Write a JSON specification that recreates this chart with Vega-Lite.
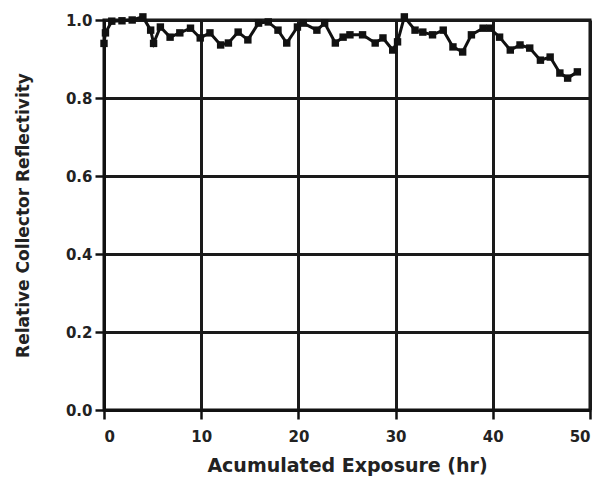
{
  "$schema": "https://vega.github.io/schema/vega-lite/v6.json",
  "width": 486,
  "height": 390,
  "autosize": "none",
  "padding": {"left": 104, "top": 20, "right": 14, "bottom": 72},
  "background": "white",
  "config": {
    "view": {"stroke": "#111", "strokeWidth": 3},
    "font": "DejaVu Sans",
    "axis": {
      "labelFont": "DejaVu Sans",
      "labelFontWeight": "bold",
      "labelFontSize": 15,
      "labelColor": "#222",
      "titleFont": "DejaVu Sans",
      "titleFontWeight": "bold",
      "titleFontSize": 18,
      "titleColor": "#222",
      "domainColor": "#111",
      "domainWidth": 3,
      "tickColor": "#111",
      "tickWidth": 2.5,
      "tickSize": 9,
      "grid": true,
      "gridColor": "#1a1a1a",
      "gridWidth": 3,
      "gridOpacity": 1
    }
  },
  "data": {
    "values": [
      {"hours": 0.0, "reflectivity": 0.94},
      {"hours": 0.15, "reflectivity": 0.967},
      {"hours": 0.8, "reflectivity": 0.997},
      {"hours": 1.85, "reflectivity": 0.998},
      {"hours": 2.9, "reflectivity": 1.0},
      {"hours": 4.0, "reflectivity": 1.008},
      {"hours": 4.8, "reflectivity": 0.974},
      {"hours": 5.1, "reflectivity": 0.94},
      {"hours": 5.8, "reflectivity": 0.982},
      {"hours": 6.8, "reflectivity": 0.956},
      {"hours": 7.8, "reflectivity": 0.967},
      {"hours": 8.9, "reflectivity": 0.979},
      {"hours": 9.9, "reflectivity": 0.954},
      {"hours": 10.9, "reflectivity": 0.967},
      {"hours": 12.0, "reflectivity": 0.936},
      {"hours": 12.8, "reflectivity": 0.941},
      {"hours": 13.8, "reflectivity": 0.969},
      {"hours": 14.8, "reflectivity": 0.949},
      {"hours": 15.9, "reflectivity": 0.992},
      {"hours": 16.9, "reflectivity": 0.995},
      {"hours": 17.9, "reflectivity": 0.974},
      {"hours": 18.8, "reflectivity": 0.941},
      {"hours": 19.9, "reflectivity": 0.982},
      {"hours": 20.5, "reflectivity": 0.992},
      {"hours": 21.9, "reflectivity": 0.974},
      {"hours": 22.7, "reflectivity": 0.992},
      {"hours": 23.8, "reflectivity": 0.941},
      {"hours": 24.6, "reflectivity": 0.956},
      {"hours": 25.3, "reflectivity": 0.962},
      {"hours": 26.6, "reflectivity": 0.962},
      {"hours": 27.9, "reflectivity": 0.941},
      {"hours": 28.7, "reflectivity": 0.954},
      {"hours": 29.7, "reflectivity": 0.923},
      {"hours": 30.2, "reflectivity": 0.944},
      {"hours": 30.9, "reflectivity": 1.008},
      {"hours": 32.0, "reflectivity": 0.974},
      {"hours": 32.8, "reflectivity": 0.969},
      {"hours": 33.8, "reflectivity": 0.962},
      {"hours": 34.9, "reflectivity": 0.974},
      {"hours": 35.9, "reflectivity": 0.931},
      {"hours": 36.9, "reflectivity": 0.918},
      {"hours": 37.8, "reflectivity": 0.962},
      {"hours": 39.0, "reflectivity": 0.979},
      {"hours": 39.7, "reflectivity": 0.979},
      {"hours": 40.7, "reflectivity": 0.956},
      {"hours": 41.8, "reflectivity": 0.923},
      {"hours": 42.8, "reflectivity": 0.936},
      {"hours": 43.8, "reflectivity": 0.928},
      {"hours": 44.9, "reflectivity": 0.897},
      {"hours": 45.9, "reflectivity": 0.905},
      {"hours": 46.9, "reflectivity": 0.864},
      {"hours": 47.7, "reflectivity": 0.851},
      {"hours": 48.7, "reflectivity": 0.867}
    ]
  },
  "mark": {
    "type": "line",
    "color": "#111",
    "strokeWidth": 3,
    "point": {"shape": "square", "filled": true, "size": 55, "color": "#111", "opacity": 1}
  },
  "encoding": {
    "x": {
      "field": "hours",
      "type": "quantitative",
      "scale": {"domain": [0, 50], "nice": false, "zero": false},
      "axis": {
        "values": [0, 10, 20, 30, 40, 50],
        "format": "d",
        "title": "Acumulated Exposure (hr)",
        "titleFontSize": 19,
        "labelPadding": 10,
        "titlePadding": 12
      }
    },
    "y": {
      "field": "reflectivity",
      "type": "quantitative",
      "scale": {"domain": [0, 1], "nice": false},
      "axis": {
        "values": [0, 0.2, 0.4, 0.6, 0.8, 1.0],
        "format": ".1f",
        "title": "Relative Collector Reflectivity",
        "titleFontSize": 17,
        "labelPadding": 3,
        "titlePadding": 33
      }
    }
  }
}
